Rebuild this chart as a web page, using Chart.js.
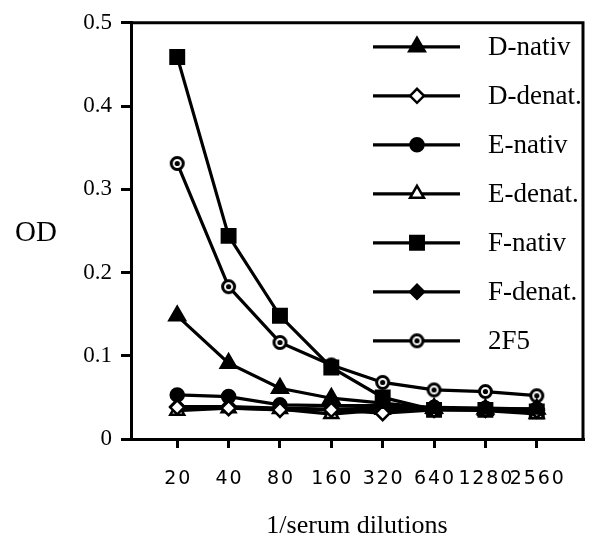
<!DOCTYPE html>
<html>
<head>
<meta charset="utf-8">
<script src="https://cdn.jsdelivr.net/npm/chart.js@4/dist/chart.umd.min.js"></script>
<style>
  html, body { margin: 0; padding: 0; background: #fff; }
  canvas { display: block; }
</style>
</head>
<body>
<canvas id="odChart" width="601" height="547"></canvas>
<script>
// data
const dilutions = ['20', '40', '80', '160', '320', '640', '1280', '2560'];
const seriesNames = ['D-nativ', 'D-denat.', 'E-nativ', 'E-denat.', 'F-nativ', 'F-denat.', '2F5'];
const dNativ  = [0.148, 0.091, 0.061, 0.049, 0.043, 0.037, 0.036, 0.036];
const dDenat  = [0.038, 0.037, 0.035, 0.035, 0.031, 0.035, 0.035, 0.034];
const eNativ  = [0.053, 0.051, 0.041, 0.040, 0.040, 0.038, 0.037, 0.036];
const eDenat  = [0.034, 0.037, 0.036, 0.030, 0.035, 0.036, 0.034, 0.030];
const fNativ  = [0.459, 0.244, 0.148, 0.086, 0.050, 0.035, 0.035, 0.033];
const fDenat  = [0.039, 0.039, 0.037, 0.036, 0.037, 0.037, 0.036, 0.036];
const mab2F5  = [0.331, 0.183, 0.116, 0.089, 0.068, 0.059, 0.057, 0.052];
const yTicks  = [0, 0.1, 0.2, 0.3, 0.4, 0.5];

// 2F5 marker: open circle with a dot in the middle
function dotCircle() {
    const c = document.createElement('canvas');
    c.width = 17; c.height = 17;
    const g = c.getContext('2d');
    g.beginPath();
    g.arc(8.5, 8.5, 6, 0, Math.PI * 2);
    g.fillStyle = '#fff';
    g.fill();
    g.lineWidth = 3;
    g.strokeStyle = '#000';
    g.stroke();
    g.beginPath();
    g.arc(8.5, 8.5, 2.6, 0, Math.PI * 2);
    g.fillStyle = '#000';
    g.fill();
    return c;
}

const markers = [
    { style: 'triangle', r: 9, fill: '#000' },
    { style: 'rectRot', r: 7, fill: '#fff' },
    { style: 'circle', r: 6.5, fill: '#000' },
    { style: 'triangle', r: 8, fill: '#fff' },
    { style: 'rect', r: 9.5, fill: '#000' },
    { style: 'rectRot', r: 7, fill: '#000' },
    { style: dotCircle(), r: 8, fill: '#fff' }
];
const seriesValues = [dNativ, dDenat, eNativ, eDenat, fNativ, fDenat, mab2F5];

const datasets = seriesValues.map((vals, i) => ({
    label: seriesNames[i],
    data: vals.map((v, k) => ({ x: k, y: v })),
    borderColor: '#000',
    borderWidth: 3.2,
    pointStyle: markers[i].style,
    pointRadius: markers[i].r,
    pointBackgroundColor: markers[i].fill,
    pointBorderColor: '#000',
    pointBorderWidth: 2.5,
    tension: 0
}));

// frame, OD label and the line+marker legend
const extras = {
    id: 'extras',
    afterDatasetsDraw(chart) {
        const ctx = chart.ctx;
        const a = chart.chartArea;
        ctx.save();
        ctx.strokeStyle = '#000';
        ctx.lineWidth = 3;
        ctx.beginPath();
        ctx.moveTo(a.left, a.top);
        ctx.lineTo(a.right, a.top);
        ctx.lineTo(a.right, a.bottom);
        ctx.stroke();

        ctx.fillStyle = '#000';
        ctx.font = '29px "Liberation Serif", serif';
        ctx.textAlign = 'center';
        ctx.textBaseline = 'middle';
        ctx.fillText('OD', 36, 233);

        ctx.font = '27px "Liberation Serif", serif';
        ctx.textAlign = 'left';
        chart.data.datasets.forEach((ds, i) => {
            const y = a.top + 24 + i * 49;
            ctx.lineWidth = 3.2;
            ctx.beginPath();
            ctx.moveTo(a.left + 242, y);
            ctx.lineTo(a.left + 329, y);
            ctx.stroke();
            ctx.fillStyle = ds.pointBackgroundColor;
            ctx.lineWidth = ds.pointBorderWidth;
            Chart.helpers.drawPoint(ctx, {
                pointStyle: ds.pointStyle,
                radius: ds.pointRadius,
                rotation: 0,
                borderWidth: ds.pointBorderWidth
            }, a.left + 286, y);
            ctx.fillStyle = '#000';
            ctx.fillText(ds.label, a.left + 357, y + 1);
        });
        ctx.restore();
    }
};

const ctx = document.getElementById('odChart').getContext('2d');
new Chart(ctx, {
    type: 'line',
    data: { datasets: datasets },
    plugins: [extras],
    options: {
        responsive: false,
        animation: false,
        layout: { padding: { left: 0, right: 18, top: 21, bottom: 0 } },
        plugins: {
            legend: { display: false },
            tooltip: { enabled: false }
        },
        scales: {
            x: {
                type: 'linear',
                min: -0.9,
                max: 7.9,
                afterBuildTicks: s => { s.ticks = dilutions.map((d, i) => ({ value: i })); },
                afterFit: s => { s.height = 108; },
                ticks: {
                    autoSkip: false,
                    maxRotation: 0,
                    padding: 20,
                    color: '#000',
                    font: { family: '"DejaVu Sans", sans-serif', size: 19 },
                    callback: v => dilutions[v].split('').join('\u200A')
                },
                grid: { drawOnChartArea: false, drawTicks: true, tickLength: 9, color: '#000', lineWidth: 3 },
                border: { display: true, color: '#000', width: 3 },
                title: {
                    display: true,
                    text: '1/serum dilutions',
                    color: '#000',
                    font: { family: '"Liberation Serif", serif', size: 26 },
                    padding: { top: 0, bottom: 5 }
                }
            },
            y: {
                min: 0,
                max: 0.5,
                afterBuildTicks: s => { s.ticks = yTicks.map(v => ({ value: v })); },
                afterFit: s => { s.width = 131; },
                ticks: {
                    padding: 9,
                    color: '#000',
                    font: { family: '"Liberation Serif", serif', size: 23 },
                    callback: v => (v === 0 ? '0' : v.toFixed(1))
                },
                grid: { drawOnChartArea: false, drawTicks: true, tickLength: 10, color: '#000', lineWidth: 3 },
                border: { display: true, color: '#000', width: 3 }
            }
        }
    }
});
</script>
</body>
</html>
